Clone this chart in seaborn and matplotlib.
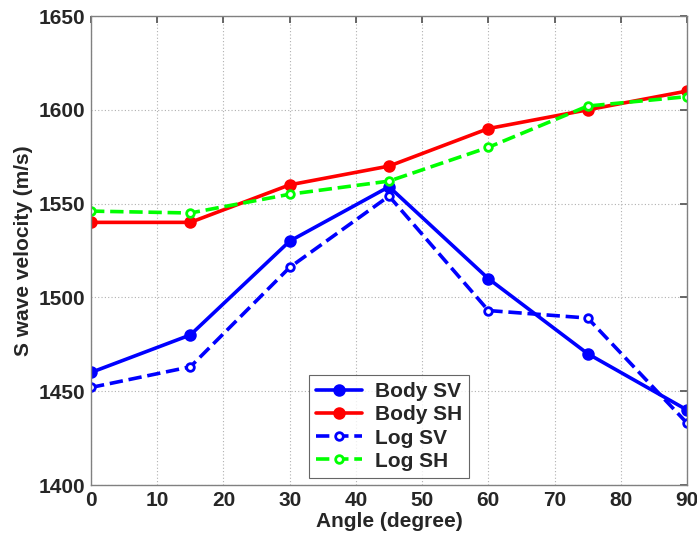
import matplotlib
matplotlib.use("Agg")
import matplotlib.pyplot as plt
import seaborn as sns
import pandas as pd

angles = [0, 15, 30, 45, 60, 75, 90]
body_sv = [1460, 1480, 1530, 1559, 1510, 1470, 1440]
body_sh = [1540, 1540, 1560, 1570, 1590, 1600, 1610]
log_sv = [1452, 1463, 1516, 1554, 1493, 1489, 1433]
log_sh = [1546, 1545, 1555, 1562, 1580, 1602, 1607]

series = [
    ("Body SV", body_sv, "#0000ff", "-", True),
    ("Body SH", body_sh, "#ff0000", "-", True),
    ("Log SV", log_sv, "#0000ff", "--", False),
    ("Log SH", log_sh, "#00ff00", "--", False),
]

sns.set_theme(style="white")
plt.rcParams["font.family"] = ["Liberation Sans", "DejaVu Sans"]
plt.rcParams["font.weight"] = "bold"

fig = plt.figure(figsize=(6.97, 5.37), dpi=100)
ax = fig.add_axes([0.1306, 0.0968, 0.8551, 0.8734])

for name, vals, color, ls, filled in series:
    df = pd.DataFrame({"angle": angles, "v": vals})
    sns.lineplot(
        data=df, x="angle", y="v", ax=ax, color=color, linestyle=ls,
        linewidth=2.6, marker="o",
        markersize=7 if filled else 5.5,
        markerfacecolor=color if filled else "white",
        markeredgecolor=color, markeredgewidth=2.0,
        label=name,
    )

ax.set_xlim(0, 90)
ax.set_ylim(1400, 1650)
ax.set_xticks(range(0, 91, 10))
ax.set_yticks(range(1400, 1651, 50))
ax.grid(True, linestyle=(0, (1, 2)), color="#b0b0b0", linewidth=0.8)
ax.tick_params(axis="both", direction="in", length=5, color="#555555",
               labelsize=15, top=True, right=True, pad=4)
for lbl in ax.get_xticklabels() + ax.get_yticklabels():
    lbl.set_fontweight("bold")
for sp in ax.spines.values():
    sp.set_color("#808080")
    sp.set_linewidth(1.0)

ax.set_xlabel("Angle (degree)", fontsize=15, fontweight="bold", labelpad=2)
ax.set_ylabel("S wave velocity (m/s)", fontsize=15, fontweight="bold", labelpad=4)

leg = ax.legend(loc="lower left", bbox_to_anchor=(0.366, 0.015), fontsize=15,
                frameon=True, fancybox=False, edgecolor="#404040",
                borderpad=0.35, labelspacing=0.2, handlelength=2.2,
                handletextpad=0.6, borderaxespad=0)
leg.get_frame().set_linewidth(0.8)
for t in leg.get_texts():
    t.set_fontweight("bold")

fig.savefig("out.png", dpi=100)
